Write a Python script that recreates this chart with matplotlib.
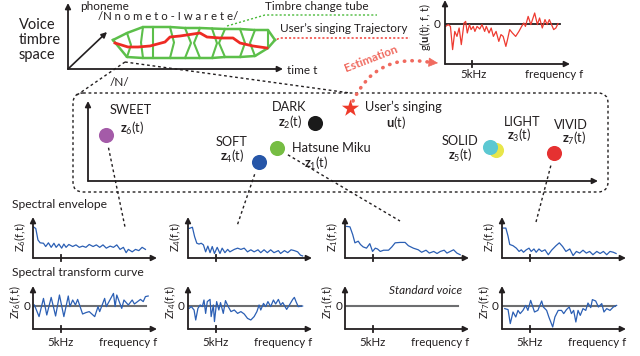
import numpy as np
import matplotlib
matplotlib.use('Agg')
import matplotlib.pyplot as plt
from matplotlib.patches import FancyBboxPatch

plt.rcParams['font.family'] = ['Lato', 'DejaVu Sans']
plt.rcParams['mathtext.fontset'] = 'custom'
plt.rcParams['mathtext.rm'] = 'Lato'
plt.rcParams['mathtext.it'] = 'Lato:italic'
plt.rcParams['mathtext.bf'] = 'Lato:bold'

W, H = 640, 356
INK = '#231f20'
BLUE = '#2b5fb4'
EST = '#f06a5f'

# ------------------------------------------------------------------
# Datos

# espacio de timbre (unidades arbitrarias 0-100)
voice_names = ['Hatsune Miku', 'DARK', 'LIGHT', 'SOFT', 'SOLID', 'SWEET', 'VIVID']
voice_idx = [1, 2, 3, 4, 5, 6, 7]
voice_x = [37.0, 44.5, 80.0, 33.5, 78.8, 3.5, 91.4]
voice_y = [41.0, 72.5, 38.8, 23.8, 42.5, 57.5, 35.0]
user_x = 51.4
user_y = 91.0

# tubo de cambio de timbre y trayectoria (tiempo, timbre)
tube_t = [45, 59, 75, 85, 102, 117, 132, 144, 157, 172, 187, 200, 207]
tube_hi = [29, 36, 42, 42, 42, 41, 41, 40.5, 40, 40, 39, 39, 29]
tube_lo = [29, 12, 11, 11, 11, 11, 11, 11, 12, 12, 13, 21, 29]
tube_kink = [0, 4, -2, 0, 4, 6, -6, 5, -6, 5, -5, 0, 0]
traj_t = [47, 60, 70, 82, 97, 102, 112, 132, 139, 152, 165, 172, 185, 199]
traj_v = [26, 22, 22, 23, 27, 32, 33, 36, 32, 31, 31, 26, 23, 21]

# g(u(t); f, t)
g_f = [0.1, 0.6, 1.0, 1.4, 1.8, 2.2, 2.6, 3.0, 3.5, 3.8, 4.1, 4.5, 4.8, 5.2, 5.5,
       5.9, 6.4, 6.8, 7.3, 7.6, 8.1, 8.5, 8.9, 9.4, 9.9, 10.3, 10.7, 11.2, 11.5, 11.9,
       12.4, 13.0, 13.6, 14.1, 14.5, 14.8, 15.3, 15.8, 16.1, 16.5, 17.0, 17.4, 17.9,
       18.4, 18.8, 19.2, 19.6, 20.0, 20.4, 20.8]
g_v = [-0.12, -0.03, -0.12, -1.28, -0.37, -0.62, -0.2, -1.03, 0.05, 0.13, -0.45, -0.03,
       -0.28, -0.12, -0.37, -0.12, -0.25, -0.03, -0.37, -0.12, -0.45, -0.2, -0.62, -0.37,
       -0.87, -0.53, -0.62, -1.12, -0.78, -0.28, -0.45, -0.62, -0.37, -0.12, 0.05, -0.12,
       0.38, -0.03, 0.22, 0.55, -0.03, 0.3, -0.2, 0.22, -0.03, 0.22, -0.03, -0.28, -0.2, 0.02]

# envolventes espectrales Z_k(f,t)  (kHz, valor)
env6_f = [0.06, 0.5, 0.9, 1.3, 1.9, 2.3, 2.8, 3.3, 3.8, 4.2, 4.7, 5.2, 5.6, 6.0, 6.5, 7.2,
          7.8, 8.4, 9.0, 9.6, 10.2, 10.9, 11.5, 12.1, 12.7, 13.3, 14.0, 14.6, 15.2, 15.8,
          16.4, 16.9, 17.3, 18.0, 18.6, 19.2, 19.8, 20.4]
env6_v = [0.76, 0.72, 0.44, 0.37, 0.36, 0.28, 0.37, 0.26, 0.36, 0.26, 0.34, 0.24, 0.34,
          0.26, 0.33, 0.28, 0.32, 0.26, 0.29, 0.26, 0.33, 0.28, 0.32, 0.26, 0.32, 0.24,
          0.29, 0.26, 0.32, 0.21, 0.26, 0.13, 0.21, 0.15, 0.21, 0.18, 0.26, 0.21]
env4_f = [0.2, 0.8, 1.2, 1.6, 2.0, 2.4, 2.8, 3.2, 3.6, 4.0, 4.4, 4.8, 5.3, 5.8, 6.2, 6.7,
          7.2, 7.6, 8.4, 9.0, 9.6, 10.2, 10.8, 11.4, 12.0, 12.7, 13.2, 13.8, 14.4, 15.0,
          15.6, 16.4, 16.8, 17.5, 18.1, 18.7, 19.3, 19.9, 20.4, 20.8]
env4_v = [0.72, 0.75, 0.52, 0.36, 0.34, 0.36, 0.32, 0.15, 0.29, 0.13, 0.28, 0.11, 0.26,
          0.11, 0.24, 0.13, 0.21, 0.15, 0.21, 0.24, 0.21, 0.24, 0.15, 0.2, 0.15, 0.2,
          0.13, 0.2, 0.13, 0.2, 0.13, 0.18, 0.11, 0.18, 0.13, 0.2, 0.18, 0.15, 0.07, 0.05]
env1_f = [0.3, 0.9, 1.4, 1.8, 2.4, 2.8, 3.3, 3.9, 4.5, 5.0, 5.5, 5.9, 6.4, 7.0, 7.9, 8.5,
          9.1, 10.0, 10.9, 11.5, 12.4, 13.3, 13.9, 14.7, 15.3, 16.1, 16.7, 17.3, 18.0,
          18.5, 19.1, 19.7, 20.3, 20.9]
env1_v = [0.77, 0.76, 0.57, 0.37, 0.41, 0.33, 0.27, 0.24, 0.35, 0.16, 0.24, 0.22, 0.16,
          0.19, 0.19, 0.27, 0.37, 0.38, 0.38, 0.3, 0.24, 0.2, 0.14, 0.19, 0.12, 0.16,
          0.11, 0.16, 0.19, 0.12, 0.16, 0.2, 0.12, 0.08]
env7_f = [0.2, 0.7, 1.1, 1.4, 2.0, 2.6, 3.1, 3.5, 3.9, 4.4, 4.9, 5.3, 5.8, 6.2, 6.7, 7.2,
          7.8, 8.4, 9.0, 9.8, 10.4, 11.0, 11.6, 12.3, 12.9, 13.5, 14.1, 14.7, 15.3, 15.9,
          16.5, 17.2, 17.8, 18.4, 19.0, 19.6, 20.2, 20.7]
env7_v = [0.73, 0.73, 0.53, 0.33, 0.3, 0.24, 0.16, 0.2, 0.14, 0.2, 0.24, 0.16, 0.22,
          0.14, 0.22, 0.16, 0.2, 0.08, 0.19, 0.3, 0.37, 0.28, 0.16, 0.22, 0.06, 0.16,
          0.12, 0.19, 0.12, 0.16, 0.08, 0.16, 0.11, 0.16, 0.08, 0.16, 0.14, 0.11]

# curvas de transformacion espectral Zr_k(f,t)
tr6_f = [0.25, 1.1, 1.9, 2.5, 3.3, 4.1, 4.8, 5.6, 6.4, 6.7, 7.2, 7.7, 8.1, 9.0, 9.6, 10.2,
         11.2, 11.8, 12.1, 13.0, 13.3, 14.6, 14.9, 15.2, 16.1, 16.5, 17.3, 18.0, 18.4,
         19.5, 20.0, 20.4, 20.9]
tr6_v = [0.05, -0.53, 0.38, -0.45, 0.43, -0.5, 0.55, -0.53, 0.5, -0.03, 0.3, 0.05, 0.33,
         -0.4, -0.33, -0.28, -0.53, -0.03, -0.28, 0.38, -0.03, 0.63, -0.03, 0.55, -0.12,
         0.3, 0.05, 0.3, 0.1, 0.33, 0.22, 0.47, 0.5]
tr4_f = [0.2, 0.6, 1.1, 1.4, 1.8, 2.2, 2.6, 2.9, 3.2, 3.5, 4.0, 4.2, 4.6, 4.8, 5.2, 5.6,
         5.9, 6.4, 6.8, 7.3, 7.8, 8.4, 9.0, 9.6, 10.2, 10.8, 11.4, 12.0, 12.5, 12.9, 13.2,
         13.7, 14.1, 14.5, 15.0, 15.5, 15.9, 16.4, 16.8, 17.2, 17.9, 18.4, 19.0, 19.3,
         19.6, 20.0, 20.8]
tr4_v = [-0.12, -0.03, -0.2, -0.7, -0.12, 0.05, -0.03, 0.3, -0.37, 0.22, 0.33, -0.53,
         0.05, -0.78, 0.22, -0.2, 0.17, -0.37, 0.27, -0.03, -0.28, -0.2, -0.37, -0.28,
         -0.4, -0.62, -0.7, -0.53, -0.28, 0.05, -0.2, 0.13, -0.03, 0.22, -0.03, 0.3, 0.1,
         0.33, 0.05, 0.17, -0.17, 0.05, 0.33, 0.43, 0.22, -0.03, 0.0]
tr1_f = []
tr1_v = []
tr7_f = [0.5, 1.1, 1.5, 2.0, 2.5, 2.9, 3.3, 3.8, 4.3, 4.7, 5.2, 5.5, 5.9, 6.5, 7.2, 7.5,
         8.1, 8.5, 9.2, 9.6, 10.2, 10.8, 11.2, 11.7, 12.2, 12.6, 13.0, 13.4, 13.8, 14.2,
         14.7, 15.2, 15.6, 16.1, 16.4, 17.0, 17.5, 18.1, 18.5, 19.0, 19.6, 20.2, 20.8]
tr7_v = [-0.13, -0.18, -0.88, -0.3, -0.55, -0.22, -0.38, -0.22, 0.03, -0.22, 0.28, 0.03,
         -0.3, -0.22, 0.25, -0.05, -0.22, -0.55, -1.05, -0.55, -0.22, -0.22, -0.38, -0.18,
         -0.05, -0.38, -0.22, -0.8, -0.22, -0.47, -0.13, -0.22, 0.15, -0.08, 0.32, 0.25,
         -0.05, 0.12, -0.3, -0.13, -0.22, -0.05, 0.03]

panel_idx = [6, 4, 1, 7]
panel_env = [(env6_f, env6_v), (env4_f, env4_v), (env1_f, env1_v), (env7_f, env7_v)]
panel_tr = [(tr6_f, tr6_v), (tr4_f, tr4_v), (tr1_f, tr1_v), (tr7_f, tr7_v)]

# ------------------------------------------------------------------
# Estilos

voice_col = {'Hatsune Miku': '#76bd43', 'DARK': '#1a1a1a', 'LIGHT': '#e8e64a',
             'SOFT': '#2656a8', 'SOLID': '#5cc8d2', 'SWEET': '#a45ba8', 'VIVID': '#e53131'}
# (dx, dy) en pixeles del nombre y de z_k respecto al punto, alineacion
voice_lab = {'Hatsune Miku': ((15, 0, 'left'), (39, 15)),
             'DARK': ((-26, -16, 'center'), (-25, -1)),
             'LIGHT': ((26, -28, 'center'), (23, -15)),
             'SOFT': ((-27, -20, 'center'), (-27, -6)),
             'SOLID': ((-30, -6, 'center'), (-30, 8)),
             'SWEET': ((4, -25, 'left'), (26, -7)),
             'VIVID': ((17, -28, 'center'), (20, -15))}
FS = 9.2

fig = plt.figure(figsize=(6.4, 3.56), dpi=100)
ov = fig.add_axes([0, 0, 1, 1])
ov.set_xlim(0, W)
ov.set_ylim(H, 0)
ov.axis('off')


def px_axes(x0, y0, x1, y1):
    ax = fig.add_axes([x0 / W, 1 - y1 / H, (x1 - x0) / W, (y1 - y0) / H])
    ax.axis('off')
    ax.patch.set_alpha(0)
    return ax


def flechas(ax, lw=1.3, ms=8):
    for fin in [(1, 0), (0, 1)]:
        ax.annotate('', xy=fin, xytext=(0, 0), xycoords='axes fraction',
                    arrowprops=dict(arrowstyle='-|>', color=INK, lw=lw,
                                    mutation_scale=ms, shrinkA=0, shrinkB=0))


def a_pixel(ax, x, y):
    return ov.transData.inverted().transform(ax.transData.transform((x, y)))


# ------------------------------------------------------------------
# Diagrama superior: espacio de timbre de voz

ov.text(19, 25, 'Voice', fontsize=10.5, color=INK, va='center')
ov.text(19, 40, 'timbre', fontsize=10.5, color=INK, va='center')
ov.text(19, 55, 'space', fontsize=10.5, color=INK, va='center')

top = px_axes(68, 3, 283, 69)
top.set_xlim(0, 215)
top.set_ylim(0, 66)
flechas(top)
top.annotate('', xy=(39, 37), xytext=(0, 0),
             arrowprops=dict(arrowstyle='-|>', color=INK, lw=1.2, mutation_scale=8,
                             shrinkA=0, shrinkB=0))
# tubo
top.plot(tube_t, tube_hi, color='#5cbf4a', lw=1.8, solid_joinstyle='round')
top.plot(tube_t, tube_lo, color='#5cbf4a', lw=1.8, solid_joinstyle='round')
for t, hi, lo, k in zip(tube_t[1:-1], tube_hi[1:-1], tube_lo[1:-1], tube_kink[1:-1]):
    top.plot([t, t + k, t], [hi, (hi + lo) / 2, lo], color='#5cbf4a', lw=1.5)
top.plot(traj_t, traj_v, color='#ee2b24', lw=2.0, solid_joinstyle='round')

ov.text(80, 6, 'phoneme', fontsize=8.5, color=INK, va='center')
ov.text(98, 17, '/N n o m e t o - I w a r e t e/', fontsize=8.2, color=INK, va='center')
ov.text(287, 71, 'time t', fontsize=8.5, color=INK, va='center')
ov.text(110, 83, '/N/', fontsize=8.5, color=INK, va='center')
ov.text(265, 7, 'Timbre change tube', fontsize=8.5, color=INK, va='center')
ov.text(280, 28, u'User\u2019s singing Trajectory', fontsize=8.5, color=INK, va='center')
ov.plot([227, 265, 377], [26, 15, 15], color='#4cbb3c', lw=1, ls=(0, (1.5, 1.5)))
ov.plot([273, 280, 410], [41, 38, 38], color='#ee2b24', lw=1, ls=(0, (1.5, 1.5)))

# proyeccion al espacio de timbre
ov.plot([125, 77], [62, 95], color=INK, lw=1, ls=(0, (2, 2)))
ov.plot([125, 350], [62, 93], color=INK, lw=1, ls=(0, (2, 2)))

# ------------------------------------------------------------------
# g(u(t); f, t)

gax = px_axes(445, 0, 570, 64)
gax.set_xlim(0, 23)
gax.set_ylim(-2.0, 1.2)
flechas(gax)
gax.axhline(0, xmin=0, xmax=0.92, color=INK, lw=1.3)
gax.axvline(5, ymin=-0.05, ymax=0.05, color=INK, lw=1.3, clip_on=False)
gax.plot(g_f, g_v, color='#ee3a30', lw=0.9)
ov.text(441, 24, '0', fontsize=8.5, color=INK, ha='right', va='center')
ov.text(425, 27, r'g($\mathbf{u}$(t); f, t)', fontsize=8, color=INK, rotation=90,
        ha='center', va='center')
ov.text(474, 74, '5kHz', fontsize=8.3, color=INK, ha='center', va='center')
ov.text(583, 74, 'frequency f', fontsize=8.3, color=INK, ha='right', va='center')

# flecha de estimacion
ov.annotate('', xy=(428, 62), xytext=(353, 101),
            arrowprops=dict(arrowstyle='-', color=EST, lw=2.6, ls=(0, (0.1, 2.0)),
                            capstyle='round', connectionstyle='arc3,rad=-0.38',
                            shrinkA=0, shrinkB=0))
ov.annotate('', xy=(438, 63), xytext=(426, 62),
            arrowprops=dict(arrowstyle='-|>', color=EST, lw=0.5, mutation_scale=15,
                            shrinkA=0, shrinkB=0))
ov.text(371, 59, 'Estimation', fontsize=8.5, color=EST, fontweight='bold', rotation=21,
        ha='center', va='center')

# ------------------------------------------------------------------
# Espacio de timbre (caja punteada)

ov.add_patch(FancyBboxPatch((73, 93), 535, 99, boxstyle='round,pad=0,rounding_size=10',
                            fill=False, ec=INK, lw=1, ls=(0, (2, 2))))
sp = px_axes(88, 101, 598, 181)
sp.set_xlim(0, 100)
sp.set_ylim(0, 100)
flechas(sp)
orden = ['LIGHT', 'SOLID', 'SWEET', 'DARK', 'SOFT', 'Hatsune Miku', 'VIVID']
for nombre in orden:
    i = voice_names.index(nombre)
    sp.scatter(voice_x[i], voice_y[i], s=118, color=voice_col[nombre], lw=0, zorder=3,
               clip_on=False)
    (dx, dy, ha), (zx, zy) = voice_lab[nombre]
    sp.annotate(nombre, (voice_x[i], voice_y[i]), xytext=(dx * 0.72, -dy * 0.72),
                textcoords='offset points', ha=ha, va='center', fontsize=FS, color=INK)
    sp.annotate(r'$\mathbf{z}_{%d}$(t)' % voice_idx[i], (voice_x[i], voice_y[i]),
                xytext=(zx * 0.72, -zy * 0.72), textcoords='offset points', ha='center',
                va='center', fontsize=FS, color=INK)
sp.scatter(user_x, user_y, s=170, marker='*', color='#ee3a2a', lw=0, zorder=3, clip_on=False)
sp.annotate(u'User\u2019s singing', (user_x, user_y), xytext=(15 * 0.72, 1 * 0.72),
            textcoords='offset points', ha='left', va='center', fontsize=FS, color=INK)
sp.annotate(r'$\mathbf{u}$(t)', (user_x, user_y), xytext=(46 * 0.72, -14 * 0.72),
            textcoords='offset points', ha='center', va='center', fontsize=FS, color=INK)

# ------------------------------------------------------------------
# Envolventes y curvas de transformacion

col_x = [33, 188, 345, 502]
ov.text(12, 205, 'Spectral envelope', fontsize=8.7, color=INK, va='center')
ov.text(12, 272, 'Spectral transform curve', fontsize=8.7, color=INK, va='center')
destino = [(125, 227), (237, 226), (400, 221), (536, 222)]

for j, k in enumerate(panel_idx):
    x0 = col_x[j]
    ea = px_axes(x0, 217, x0 + 124, 258)
    ea.set_xlim(0, 22.5)
    ea.set_ylim(0, 1)
    flechas(ea)
    ea.axvline(5, ymin=-0.08, ymax=0.08, color=INK, lw=1.3, clip_on=False)
    ea.plot(panel_env[j][0], panel_env[j][1], color=BLUE, lw=0.9)
    ov.text(x0 - 13, 237, r'Z$_{%d}$(f,t)' % k, fontsize=8, color=INK, rotation=90,
            ha='center', va='center')

    ta = px_axes(x0, 286, x0 + 124, 329)
    ta.set_xlim(0, 22.5)
    ta.set_ylim(-1.15, 1.0)
    flechas(ta)
    ta.axhline(0, xmin=0, xmax=0.91, color='#6d6e70', lw=1.5)
    ta.axvline(5, ymin=-0.07, ymax=0.07, color=INK, lw=1.3, clip_on=False)
    if panel_tr[j][0]:
        ta.plot(panel_tr[j][0], panel_tr[j][1], color=BLUE, lw=0.9)
    ov.text(x0 - 18, 302, r'Zr$_{%d}$(f,t)' % k, fontsize=8, color=INK, rotation=90,
            ha='center', va='center')
    ov.text(x0 - 3, 306, '0', fontsize=8.5, color=INK, ha='right', va='center')
    px5 = a_pixel(ta, 5, 0)[0]
    ov.text(px5, 342, '5kHz', fontsize=8.3, color=INK, ha='center', va='center')
    ov.text(x0 + 124, 342, 'frequency f', fontsize=8.3, color=INK, ha='right', va='center')

    # conector desde el punto del espacio de timbre
    i = voice_idx.index(k)
    p = a_pixel(sp, voice_x[i], voice_y[i])
    q = np.array(destino[j], dtype=float)
    d = (q - p) / np.hypot(*(q - p))
    s = p + 13 * d
    ov.plot([s[0], q[0]], [s[1], q[1]], color=INK, lw=1, ls=(0, (2, 2)))

ov.text(462, 290, 'Standard voice', fontsize=8.5, color=INK, style='italic',
        ha='right', va='center')

fig.savefig('out.png', dpi=100)
